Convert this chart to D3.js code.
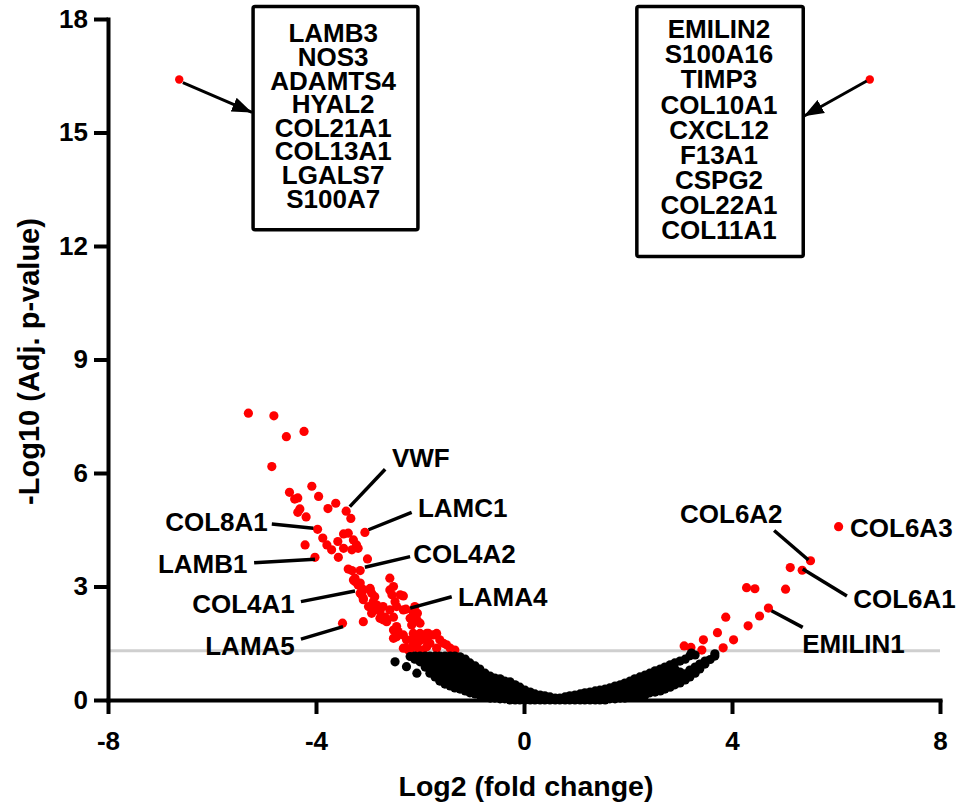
<!DOCTYPE html>
<html>
<head>
<meta charset="utf-8">
<script src="https://cdn.jsdelivr.net/npm/d3@7"></script>
<style>
  html, body { margin: 0; padding: 0; background: #fff; }
  svg { display: block; }
  text { font-family: "Liberation Sans", Arial, Helvetica, sans-serif; font-weight: bold; fill: #000; }
</style>
</head>
<body>
<svg id="chart" width="956" height="807"></svg>
<script>
// Axis ticks
const xTicks = [-8, -4, 0, 4, 8];
const yTicks = [0, 3, 6, 9, 12, 15, 18];

// Significance cut-off: adjusted p = 0.05
const threshold = 1.301;

// Two extreme genes whose names are listed in the boxes
const extremes = [[-6.63, 16.40], [6.65, 16.40]];

// Significant genes, lower in the first group (log2 FC, -log10 adj. p)
const downRegulated = [
  [-5.30, 7.58], [-4.81, 7.51], [-4.57, 6.96], [-4.23, 7.10], [-4.85, 6.17],
  [-4.51, 5.49], [-4.08, 5.65], [-4.41, 5.31], [-4.35, 5.34], [-3.95, 5.38],
  [-4.31, 5.05], [-4.35, 4.96], [-4.19, 4.84], [-3.77, 5.06], [-3.62, 5.20],
  [-3.42, 4.99], [-3.33, 4.80], [-3.97, 4.51], [-3.06, 4.43], [-3.47, 4.39],
  [-3.38, 4.41], [-3.87, 4.28], [-3.58, 4.19], [-3.28, 4.23], [-3.22, 4.10],
  [-3.19, 4.01], [-3.79, 4.10], [-3.47, 4.01], [-3.70, 3.97], [-3.31, 3.97],
  [-4.21, 4.10], [-4.02, 3.77], [-3.57, 3.77], [-3.01, 3.73], [-3.38, 3.46],
  [-3.31, 3.42], [-3.15, 3.42], [-3.25, 3.22], [-3.15, 3.09], [-3.09, 2.91],
  [-2.96, 2.95], [-2.58, 3.22], [-2.51, 3.00], [-2.54, 2.78], [-2.38, 2.78],
  [-3.12, 2.78], [-2.87, 2.73], [-3.25, 3.13], [-3.19, 3.04], [-3.12, 2.95],
  [-2.96, 2.93], [-2.93, 2.82], [-3.09, 2.69], [-2.32, 2.75], [-2.90, 2.60],
  [-2.83, 2.51], [-2.48, 2.60], [-2.45, 2.47], [-2.90, 2.38], [-2.77, 2.34],
  [-2.27, 2.40], [-2.13, 2.31], [-2.05, 2.29], [-2.67, 2.19], [-2.64, 2.07],
  [-2.51, 2.19], [-2.19, 2.16], [-2.06, 2.12], [-2.00, 2.03], [-3.49, 2.03],
  [-3.09, 2.07], [-2.45, 1.94], [-2.42, 1.81], [-2.32, 1.72], [-2.51, 1.63],
  [-2.13, 1.63], [-2.03, 1.55], [-1.84, 1.76], [-1.74, 1.72], [-1.68, 1.76],
  [-1.87, 1.59], [-1.81, 1.50], [-1.62, 1.59], [-1.55, 1.50], [-1.49, 1.46],
  [-2.26, 1.37], [-2.22, 1.32], [-2.03, 1.34], [-1.94, 1.32], [-1.68, 1.37],
  [-1.42, 1.37], [-1.33, 1.32], [-3.28, 3.17], [-3.15, 2.82], [-3.09, 2.65],
  [-2.99, 2.47], [-2.93, 2.29], [-2.77, 2.16], [-2.71, 2.12], [-2.58, 2.38],
  [-2.58, 2.91], [-2.32, 2.38], [-2.13, 2.20], [-2.51, 1.85], [-2.45, 1.67],
  [-2.26, 1.59], [-2.13, 1.76], [-2.00, 1.76], [-1.87, 1.76], [-2.32, 1.37],
  [-2.19, 1.32], [-1.87, 1.41], [-2.06, 1.46], [-2.71, 2.47], [-2.13, 1.46],
  [-1.97, 1.59], [-2.10, 2.47], [-2.16, 1.98]
];

// Significant genes, higher in the first group
const upRegulated = [
  [6.05, 4.58], [5.51, 3.68], [5.12, 3.50], [5.35, 3.43], [4.28, 2.97],
  [4.44, 2.94], [5.03, 2.93], [4.70, 2.43], [4.53, 2.22], [3.88, 2.19],
  [4.31, 1.96], [3.72, 1.78], [4.03, 1.59], [3.45, 1.59], [3.83, 1.38],
  [3.08, 1.43], [3.21, 1.39], [3.42, 1.32]
];

// Non-significant genes, grouped by log2 FC: [log2 FC, [-log10 adj. p, ...]]
const nonSignificant = [
  [-2.48, [1.01]], [-2.26, [0.88]], [-2.19, [1.15]], [-2.10, [1.16, 1.08]],
  [-2.06, [0.71]], [-2.00, [1.16, 1.01]], [-1.90, [1.16, 1.03, 0.87]],
  [-1.81, [1.16, 1.01, 0.87, 0.71]], [-1.71, [1.16, 0.98, 0.79, 0.61]],
  [-1.62, [1.16, 0.98, 0.79, 0.66, 0.50]], [-1.52, [1.16, 1.01, 0.85, 0.69, 0.53, 0.42]],
  [-1.42, [1.16, 1.01, 0.85, 0.69, 0.53, 0.37]], [-1.33, [1.16, 1.01, 0.85, 0.69, 0.53, 0.37, 0.32]],
  [-1.23, [1.14, 0.98, 0.82, 0.66, 0.50, 0.34, 0.29]], [-1.13, [1.08, 0.93, 0.77, 0.61, 0.45, 0.29, 0.24]],
  [-1.04, [0.98, 0.82, 0.66, 0.50, 0.34, 0.19]], [-0.94, [0.90, 0.74, 0.58, 0.42, 0.26, 0.16]],
  [-0.85, [0.82, 0.66, 0.50, 0.34, 0.19, 0.13]], [-0.75, [0.71, 0.56, 0.40, 0.24, 0.08]],
  [-0.65, [0.63, 0.48, 0.32, 0.16, 0.05]], [-0.56, [0.58, 0.42, 0.26, 0.11, 0.05]],
  [-0.46, [0.56, 0.40, 0.24, 0.08, 0.03]], [-0.37, [0.50, 0.34, 0.19, 0.03]],
  [-0.27, [0.48, 0.32, 0.16, 0.00]], [-0.17, [0.40, 0.24, 0.08, 0.00]],
  [-0.08, [0.34, 0.19, 0.00]], [0.02, [0.26, 0.13, 0.00]], [0.12, [0.21, 0.08, 0.00]],
  [0.21, [0.16, 0.00]], [0.31, [0.13, 0.00]], [0.40, [0.11, 0.00]], [0.50, [0.08, 0.00]],
  [0.60, [0.05, 0.00]], [0.69, [0.05, 0.00]], [0.79, [0.08, 0.00]], [0.88, [0.11, 0.00]],
  [0.98, [0.13, 0.00]], [1.08, [0.16, 0.00]], [1.17, [0.19, 0.00]], [1.27, [0.21, 0.08, 0.00]],
  [1.37, [0.24, 0.11, 0.00]], [1.46, [0.26, 0.13, 0.00]], [1.56, [0.29, 0.16, 0.00]],
  [1.65, [0.32, 0.16, 0.03]], [1.75, [0.37, 0.21, 0.03]], [1.85, [0.40, 0.24, 0.05]],
  [1.94, [0.45, 0.29, 0.13, 0.05]], [2.04, [0.50, 0.34, 0.19, 0.08]],
  [2.13, [0.56, 0.40, 0.24, 0.11]], [2.23, [0.61, 0.45, 0.29, 0.11]],
  [2.33, [0.66, 0.50, 0.34, 0.13]], [2.42, [0.71, 0.56, 0.40, 0.29, 0.19]],
  [2.52, [0.77, 0.61, 0.45, 0.29, 0.21]], [2.62, [0.82, 0.66, 0.50, 0.34, 0.24]],
  [2.71, [0.87, 0.71, 0.56, 0.40, 0.29]], [2.81, [0.93, 0.77, 0.61, 0.45, 0.34]],
  [2.90, [0.98, 0.82, 0.66, 0.50, 0.40]], [3.00, [1.03, 0.74, 0.58, 0.45]],
  [3.10, [1.08, 0.69, 0.53]], [3.19, [1.17, 0.79, 0.61]], [3.22, [1.24]],
  [3.29, [1.19, 0.87, 0.71]], [3.38, [0.95, 0.82]], [3.48, [1.03, 0.95]],
  [3.58, [1.07]], [3.67, [1.16, 1.22]]
];

// Gene lists for the two extreme points
const leftBoxGenes = ["LAMB3", "NOS3", "ADAMTS4", "HYAL2", "COL21A1", "COL13A1", "LGALS7", "S100A7"];
const rightBoxGenes = ["EMILIN2", "S100A16", "TIMP3", "COL10A1", "CXCL12", "F13A1", "CSPG2", "COL22A1", "COL11A1"];

// Named genes: text position and leader line, in data units
const geneLabels = [
  { gene: "VWF",     at: [-2.54, 6.16], from: [-2.67, 6.10], to: [-3.35, 5.11] },
  { gene: "COL8A1",  at: [-6.90, 4.47], from: [-4.85, 4.65], to: [-4.05, 4.54] },
  { gene: "LAMC1",   at: [-2.04, 4.84], from: [-2.16, 4.96], to: [-2.99, 4.50] },
  { gene: "LAMB1",   at: [-7.04, 3.36], from: [-5.19, 3.63], to: [-4.02, 3.72] },
  { gene: "COL4A2",  at: [-2.13, 3.62], from: [-2.19, 3.79], to: [-3.06, 3.51] },
  { gene: "COL4A1",  at: [-6.38, 2.30], from: [-4.29, 2.60], to: [-3.25, 2.88] },
  { gene: "LAMA4",   at: [-1.27, 2.49], from: [-1.39, 2.73], to: [-2.19, 2.43] },
  { gene: "LAMA5",   at: [-6.13, 1.19], from: [-4.29, 1.61], to: [-3.48, 1.94] },
  { gene: "COL6A2",  at: [3.00, 4.68],  from: [4.81, 4.48],   to: [5.47, 3.70] },
  { gene: "COL6A3",  at: [6.27, 4.31] },
  { gene: "COL6A1",  at: [6.33, 2.43],  from: [5.36, 3.46],   to: [6.21, 2.75] },
  { gene: "EMILIN1", at: [5.35, 1.24],  from: [4.76, 2.36],   to: [5.36, 1.92] }
];

// Boxes (data units) and the arrows pointing from the extremes to them
const boxes = [
  { genes: leftBoxGenes,  x0: -5.21, x1: -2.04, top: 18.33, bottom: 12.43, cx: -3.67, first: 17.38, step: 23.6 },
  { genes: rightBoxGenes, x0: 2.17,  x1: 5.37,  top: 18.33, bottom: 11.72, cx: 3.75,  first: 17.49, step: 25.1 }
];
const arrows = [
  { from: [-6.56, 16.32], to: [-5.23, 15.53] },
  { from: [6.59, 16.36],  to: [5.38, 15.43] }
];

const svg = d3.select("#chart");
const x = d3.scaleLinear().domain([-8, 8]).range([108, 940]);
const y = d3.scaleLinear().domain([0, 18]).range([700, 19]);
const R = 4.6;
const FONT = '"Liberation Sans", Arial, Helvetica, sans-serif';

// Arrow head
svg.append("defs").append("marker")
  .attr("id", "head").attr("markerUnits", "userSpaceOnUse")
  .attr("viewBox", "0 -8 20 16").attr("refX", 20).attr("refY", 0)
  .attr("markerWidth", 20).attr("markerHeight", 16).attr("orient", "auto")
  .append("path").attr("d", "M0,-7.5L20,0L0,7.5Z").attr("fill", "#000");

// Threshold line
svg.append("line")
  .attr("x1", x(-8)).attr("x2", x(8))
  .attr("y1", y(threshold)).attr("y2", y(threshold))
  .attr("stroke", "#cfcfcf").attr("stroke-width", 3);

// Points
const cloud = nonSignificant.flatMap(([fc, ps]) => ps.map(p => [fc, p]));
const dots = svg.append("g");
dots.selectAll("circle.sig")
  .data(downRegulated.concat(upRegulated))
  .join("circle").attr("class", "sig")
  .attr("cx", d => x(d[0])).attr("cy", d => y(d[1])).attr("r", R)
  .attr("fill", "#ff0000");
dots.selectAll("circle.ext")
  .data(extremes)
  .join("circle").attr("class", "ext")
  .attr("cx", d => x(d[0])).attr("cy", d => y(d[1])).attr("r", 4.2)
  .attr("fill", "#ff0000");
dots.selectAll("circle.ns")
  .data(cloud)
  .join("circle").attr("class", "ns")
  .attr("cx", d => x(d[0])).attr("cy", d => y(d[1])).attr("r", R)
  .attr("fill", "#000");

// Axes
function styleAxis(g) {
  g.attr("font-size", 26).attr("font-family", FONT).attr("font-weight", "bold");
  g.select(".domain").attr("stroke", "#000").attr("stroke-width", 4).attr("stroke-linecap", "square");
  g.selectAll(".tick line").attr("stroke", "#000").attr("stroke-width", 4);
  g.selectAll(".tick text").attr("fill", "#000");
}
svg.append("g")
  .attr("transform", `translate(0,${y(0)})`)
  .call(d3.axisBottom(x).tickValues(xTicks).tickFormat(d => String(d))
    .tickSize(14).tickSizeOuter(0).tickPadding(18))
  .call(styleAxis);
svg.append("g")
  .attr("transform", `translate(${x(-8)},0)`)
  .call(d3.axisLeft(y).tickValues(yTicks).tickFormat(d => String(d))
    .tickSize(14).tickSizeOuter(0).tickPadding(6))
  .call(styleAxis);

// Axis titles
svg.append("text")
  .attr("x", x(0) + 2).attr("y", 796).attr("text-anchor", "middle")
  .attr("font-size", 28.5).text("Log2 (fold change)");
svg.append("text")
  .attr("transform", `translate(39,${(y(0) + y(18)) / 2 + 2}) rotate(-90)`)
  .attr("text-anchor", "middle").attr("font-size", 29)
  .text("-Log10 (Adj. p-value)");

// Gene labels with leader lines
const lab = svg.append("g");
geneLabels.forEach(d => {
  if (d.from) {
    lab.append("line")
      .attr("x1", x(d.from[0])).attr("y1", y(d.from[1]))
      .attr("x2", x(d.to[0])).attr("y2", y(d.to[1]))
      .attr("stroke", "#000").attr("stroke-width", 3.5);
  }
  lab.append("text")
    .attr("x", x(d.at[0])).attr("y", y(d.at[1]))
    .attr("font-size", 26).text(d.gene);
});

// Boxes listing the genes at the two extremes
boxes.forEach(b => {
  svg.append("rect")
    .attr("x", x(b.x0)).attr("y", y(b.top))
    .attr("width", x(b.x1) - x(b.x0)).attr("height", y(b.bottom) - y(b.top))
    .attr("rx", 2).attr("fill", "#fff").attr("stroke", "#000").attr("stroke-width", 3.5);
  svg.append("g").selectAll("text").data(b.genes).join("text")
    .attr("x", x(b.cx)).attr("y", (d, i) => y(b.first) + i * b.step)
    .attr("text-anchor", "middle").attr("font-size", 26)
    .text(d => d);
});

arrows.forEach(a => {
  svg.append("line")
    .attr("x1", x(a.from[0])).attr("y1", y(a.from[1]))
    .attr("x2", x(a.to[0])).attr("y2", y(a.to[1]))
    .attr("stroke", "#000").attr("stroke-width", 3)
    .attr("marker-end", "url(#head)");
});
</script>
</body>
</html>
